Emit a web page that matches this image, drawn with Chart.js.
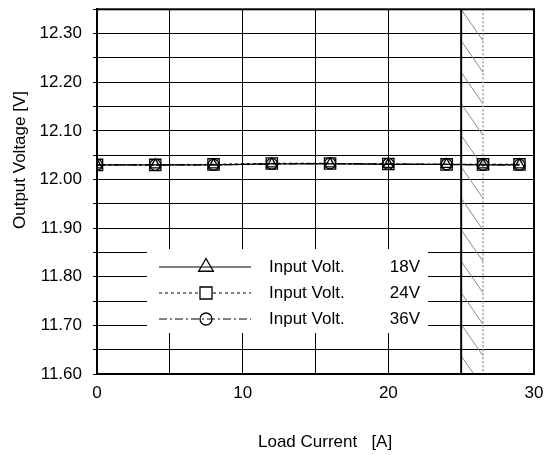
<!DOCTYPE html>
<html>
<head>
<meta charset="utf-8">
<script src="https://cdn.jsdelivr.net/npm/chart.js@4/dist/chart.umd.min.js"></script>
<style>
  html, body { margin: 0; padding: 0; background: #fff; }
  #wrap { width: 545px; height: 455px; }
</style>
</head>
<body>
<div id="wrap"><canvas id="chart" width="545" height="455"></canvas></div>
<script>
// Daten
const loadCurrent = [0, 4, 8, 12, 16, 20, 24, 26.5, 29];
const volt18 = [12.030, 12.030, 12.030, 12.032, 12.032, 12.031, 12.031, 12.030, 12.030];
const volt24 = [12.030, 12.030, 12.031, 12.033, 12.033, 12.032, 12.031, 12.031, 12.031];
const volt36 = [12.030, 12.030, 12.030, 12.032, 12.033, 12.032, 12.031, 12.030, 12.030];
const seriesNames = ['Input Volt.', 'Input Volt.', 'Input Volt.'];
const seriesVolts = ['18V', '24V', '36V'];

// schraffierter Bereich (Load Current)
const hatchFrom = 25;
const hatchTo = 26.5;

const xTitle = 'Load Current   [A]';
const yTitle = 'Output Voltage [V]';

const FONT = "'Liberation Sans', Arial, sans-serif";

function toPoints(ys) {
    return loadCurrent.map((x, i) => ({ x: x, y: ys[i] }));
}

const styles = [
    { pointStyle: 'triangle', radius: 6, legendRadius: 8.5, dash: [], legendFill: 'rgba(0,0,0,0)' },
    { pointStyle: 'rect', radius: 8, legendRadius: 8.5, dash: [3, 3], legendFill: '#fff' },
    { pointStyle: 'circle', radius: 5.5, legendRadius: 6, dash: [8, 3, 2, 3], legendFill: 'rgba(0,0,0,0)' }
];

// Schraffur + Rahmen
const hatchPlugin = {
    id: 'hatch',
    beforeDatasetsDraw(chart) {
        const ctx = chart.ctx;
        const area = chart.chartArea;
        const x = chart.scales.x;
        const x1 = x.getPixelForValue(hatchFrom);
        const x2 = x.getPixelForValue(hatchTo);
        ctx.save();
        ctx.beginPath();
        ctx.rect(x1, area.top, x2 - x1, area.bottom - area.top);
        ctx.clip();
        ctx.strokeStyle = '#8a8a8a';
        ctx.lineWidth = 1;
        const period = 31.5;
        for (let y = area.top - period; y < area.bottom + period; y += period) {
            ctx.beginPath();
            ctx.moveTo(x1, y);
            ctx.lineTo(x2, y + period);
            ctx.stroke();
        }
        ctx.restore();

        ctx.save();
        ctx.strokeStyle = '#000';
        ctx.lineWidth = 2;
        ctx.beginPath();
        ctx.moveTo(x1, area.top);
        ctx.lineTo(x1, area.bottom);
        ctx.stroke();
        ctx.strokeStyle = '#9a9a9a';
        ctx.lineWidth = 1.5;
        ctx.setLineDash([2, 2]);
        ctx.beginPath();
        ctx.moveTo(x2, area.top);
        ctx.lineTo(x2, area.bottom);
        ctx.stroke();
        ctx.restore();
    },
    afterDraw(chart) {
        const ctx = chart.ctx;
        const area = chart.chartArea;
        ctx.save();
        ctx.strokeStyle = '#000';
        ctx.lineWidth = 2;
        ctx.strokeRect(area.left, area.top, area.right - area.left, area.bottom - area.top);
        ctx.restore();
    }
};

// eigene Legende im Diagramm
const legendPlugin = {
    id: 'ownLegend',
    afterDraw(chart) {
        const ctx = chart.ctx;
        ctx.save();
        ctx.fillStyle = '#fff';
        ctx.fillRect(147, 249, 281, 84);
        const rows = [267, 293, 319];
        ctx.font = '17px ' + FONT;
        ctx.textBaseline = 'middle';
        chart.data.datasets.forEach((ds, i) => {
            const y = rows[i];
            const st = styles[i];
            ctx.strokeStyle = '#000';
            ctx.lineWidth = 1;
            ctx.setLineDash(st.dash);
            ctx.beginPath();
            ctx.moveTo(159, y);
            ctx.lineTo(251, y);
            ctx.stroke();
            ctx.setLineDash([]);
            ctx.fillStyle = st.legendFill;
            ctx.strokeStyle = '#000';
            ctx.lineWidth = 1.3;
            Chart.helpers.drawPoint(ctx, {
                pointStyle: st.pointStyle,
                rotation: 0,
                radius: st.legendRadius,
                borderWidth: 1.3
            }, 206, y);
            ctx.fillStyle = '#000';
            ctx.textAlign = 'left';
            ctx.fillText(seriesNames[i], 269, y);
            ctx.textAlign = 'right';
            ctx.fillText(seriesVolts[i], 420, y);
        });
        ctx.restore();
    }
};

// Achsentitel
const titlePlugin = {
    id: 'titles',
    afterDraw(chart) {
        const ctx = chart.ctx;
        ctx.save();
        ctx.fillStyle = '#000';
        ctx.font = '17px ' + FONT;
        ctx.textAlign = 'left';
        ctx.textBaseline = 'alphabetic';
        ctx.fillText(xTitle, 258, 447);
        ctx.translate(25, 160);
        ctx.rotate(-Math.PI / 2);
        ctx.textAlign = 'center';
        ctx.fillText(yTitle, 0, 0);
        ctx.restore();
    }
};

function makeDataset(label, ys, st) {
    return {
        label: label,
        data: toPoints(ys),
        showLine: true,
        borderColor: '#000',
        borderWidth: 1.2,
        borderDash: st.dash,
        pointStyle: st.pointStyle,
        pointRadius: st.radius,
        pointBorderColor: '#000',
        pointBackgroundColor: 'rgba(0,0,0,0)',
        pointBorderWidth: 1.3,
        tension: 0
    };
}

document.addEventListener('DOMContentLoaded', () => {
    const ctx = document.getElementById('chart').getContext('2d');
    new Chart(ctx, {
        type: 'scatter',
        data: {
            datasets: [
                makeDataset(seriesNames[0] + ' ' + seriesVolts[0], volt18, styles[0]),
                makeDataset(seriesNames[1] + ' ' + seriesVolts[1], volt24, styles[1]),
                makeDataset(seriesNames[2] + ' ' + seriesVolts[2], volt36, styles[2])
            ]
        },
        options: {
            responsive: false,
            animation: false,
            events: [],
            layout: { padding: { top: 5, right: 11, left: 0, bottom: 0 } },
            plugins: {
                legend: { display: false },
                tooltip: { enabled: false }
            },
            scales: {
                x: {
                    type: 'linear',
                    min: 0,
                    max: 30,
                    afterFit: (scale) => {
                        scale.height = 81;
                        scale.paddingLeft = 0;
                        scale.paddingRight = 0;
                    },
                    ticks: {
                        stepSize: 5,
                        padding: 9,
                        autoSkip: false,
                        color: '#000',
                        maxRotation: 0,
                        font: { family: FONT, size: 17 },
                        callback: (v) => (v % 10 === 0 ? String(v) : '')
                    },
                    grid: { color: '#000', lineWidth: 1, drawTicks: false },
                    border: { color: '#000', width: 2 }
                },
                y: {
                    min: 11.6,
                    max: 12.35,
                    afterFit: (scale) => {
                        scale.width = 97;
                        scale.paddingTop = 0;
                        scale.paddingBottom = 0;
                    },
                    ticks: {
                        stepSize: 0.05,
                        padding: 11,
                        autoSkip: false,
                        color: '#000',
                        font: { family: FONT, size: 17 },
                        callback: (v) => (Math.round(v * 20) % 2 === 0 ? v.toFixed(2) : '')
                    },
                    grid: { color: '#000', lineWidth: 1, tickLength: 4 },
                    border: { color: '#000', width: 2 }
                }
            }
        },
        plugins: [hatchPlugin, legendPlugin, titlePlugin]
    });
});
</script>
</body>
</html>
